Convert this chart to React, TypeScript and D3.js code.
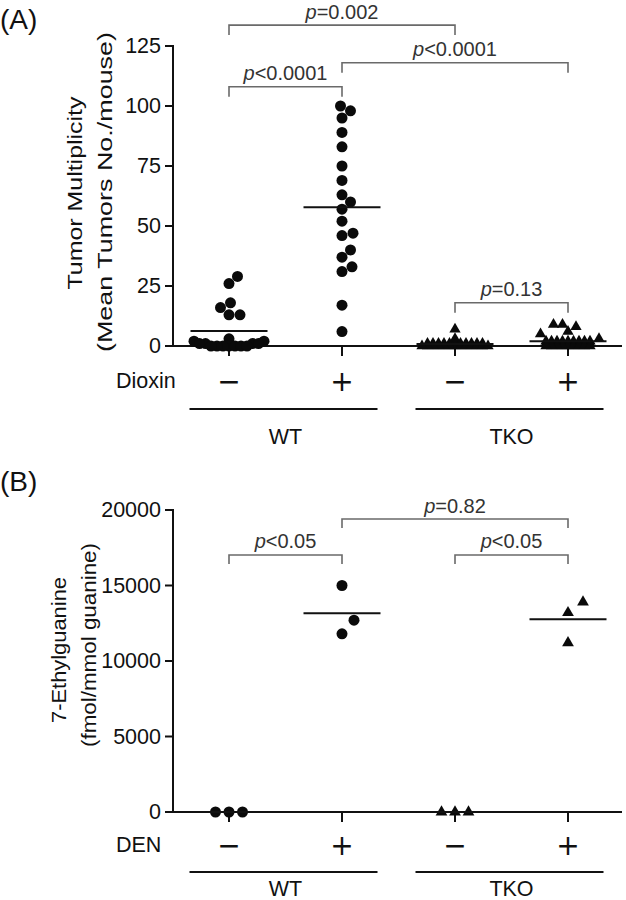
import React from "react";
import * as d3 from "d3";

// ---------- data ----------
const groupKeys = ["WT-", "WT+", "TKO-", "TKO+"];
const treatmentSigns = ["\u2212", "+", "\u2212", "+"];
const markerShapes = ["circle", "circle", "triangle", "triangle"];
const genotypes = ["WT", "TKO"];
const genotypeGroups = [
  ["WT-", "WT+"],
  ["TKO-", "TKO+"],
];

// Panel A: tumor multiplicity (tumors / mouse)
const tumorWTControl = [29, 26, 18, 16, 13, 13, 3, 2, 2, 1, 1, 1, 1, 0, 0, 0, 0, 0, 0, 0];
const tumorWTDioxin = [100, 98, 95, 89, 83, 75, 69, 63, 60, 57, 52, 47, 46, 40, 37, 33, 31, 17, 6];
const tumorTKOControl = [7, 3, 1, 1, 1, 1, 1, 1, 1, 1, 1, 1, 1, 0, 0, 0, 0, 0, 0, 0, 0, 0, 0, 0, 0, 0];
const tumorTKODioxin = [9, 9, 8, 6, 5, 3, 2, 2, 2, 2, 2, 2, 2, 2, 2, 1, 1, 1, 1, 1, 1, 1, 1, 1, 0, 0, 0, 0, 0, 0, 0, 0, 0];
const tumorTicks = [0, 25, 50, 75, 100, 125];
const tumorBrackets = [
  { from: 0, to: 2, level: 133.7, label: "=0.002" },
  { from: 1, to: 3, level: 118, label: "<0.0001" },
  { from: 0, to: 1, level: 108, label: "<0.0001" },
  { from: 2, to: 3, level: 18, label: "=0.13" },
];

// Panel B: 7-ethylguanine (fmol/mmol guanine)
const ethylWTControl = [0, 0, 0];
const ethylWTDEN = [15000, 12700, 11800];
const ethylTKOControl = [0, 0, 0];
const ethylTKODEN = [13900, 13200, 11200];
const ethylTicks = [0, 5000, 10000, 15000, 20000];
const ethylBrackets = [
  { from: 1, to: 3, level: 19400, label: "=0.82" },
  { from: 0, to: 1, level: 17020, label: "<0.05" },
  { from: 2, to: 3, level: 17020, label: "<0.05" },
];

// ---------- helpers ----------
const FONT = "'Liberation Sans', Arial, Helvetica, sans-serif";
const SIGN_FONT = "'DejaVu Sans', sans-serif";

type Pt = { v: number; y: number; dx: number; row: boolean };
type Layout = { d: number; rowMax: number; rowW: number; rowH: number; rowRound: boolean };

function swarm(values: number[], y: (v: number) => number, L: Layout): Pt[] {
  const items: Pt[] = values.map((v) => ({ v, y: y(v), dx: 0, row: v <= L.rowMax }));
  const order = items.map((_, i) => i).sort((a, b) => items[a].v - items[b].v);
  const placed: Pt[] = [];
  for (const i of order) {
    const p = items[i];
    for (let k = 0; k < 800; k++) {
      const off = k === 0 ? 0 : (k % 2 === 1 ? 1 : -1) * Math.ceil(k / 2) * 0.5;
      let ok = true;
      for (const q of placed) {
        const dx = off - q.dx;
        const dy = p.y - q.y;
        if (p.row && q.row) {
          if (L.rowRound) {
            if (dx * dx + dy * dy < L.rowW * L.rowW - 1e-6) {
              ok = false;
              break;
            }
          } else if (Math.abs(dy) < L.rowH && Math.abs(dx) < L.rowW - 1e-6) {
            ok = false;
            break;
          }
        } else if (dx * dx + dy * dy < L.d * L.d - 1e-6) {
          ok = false;
          break;
        }
      }
      if (ok) {
        p.dx = off;
        break;
      }
    }
    placed.push(p);
  }
  return items;
}

const xScale = d3.scalePoint<string>().domain(groupKeys).range([229, 568]);

type PanelProps = {
  letter: string;
  letterY: number;
  yScale: d3.ScaleLinear<number, number>;
  ticks: number[];
  series: number[][];
  layouts: Layout[];
  brackets: { from: number; to: number; level: number; label: string }[];
  legLen: number;
  rowLabel: string;
  rowY: number;
  lineY: number;
  genoY: number;
  yLabel: { text: string; x: number; y: number; len: number }[];
  circleR: number;
  triSize: number;
};

function Panel(p: PanelProps) {
  const y0 = p.yScale(0);
  const yTop = p.yScale(p.ticks[p.ticks.length - 1]);
  const tri = d3.symbol().type(d3.symbolTriangle).size(p.triSize)() as string;
  const meanHalf = 38.5;
  return (
    <g>
      <text x={0} y={p.letterY} fontSize={28} fontFamily={FONT} dominantBaseline="central" fill="#111">
        {p.letter}
      </text>
      {p.yLabel.map((l, i) => (
        <text
          key={i}
          transform={`translate(${l.x},${l.y}) rotate(-90)`}
          textAnchor="middle"
          dominantBaseline="central"
          fontSize={21}
          fontFamily={FONT}
          fill="#111"
          textLength={l.len}
          lengthAdjust="spacingAndGlyphs"
        >
          {l.text}
        </text>
      ))}
      {p.brackets.map((b, i) => {
        const x1 = xScale(groupKeys[b.from])!;
        const x2 = xScale(groupKeys[b.to])!;
        const yy = p.yScale(b.level);
        return (
          <g key={i}>
            <path
              d={`M${x1},${yy + p.legLen}V${yy}H${x2}V${yy + p.legLen}`}
              fill="none"
              stroke="#6a6a6a"
              strokeWidth={1.6}
            />
            <text
              x={(x1 + x2) / 2}
              y={yy - 13.5}
              textAnchor="middle"
              dominantBaseline="central"
              fontSize={20}
              fontFamily={FONT}
              fill="#333"
            >
              <tspan fontStyle="italic">p</tspan>
              {b.label}
            </text>
          </g>
        );
      })}
      <line x1={173} x2={173} y1={yTop - 1} y2={y0 + 1} stroke="#111" strokeWidth={2} />
      {p.ticks.map((t) => (
        <g key={t}>
          <line x1={165} x2={173} y1={p.yScale(t)} y2={p.yScale(t)} stroke="#111" strokeWidth={2} />
          <text
            x={161}
            y={p.yScale(t)}
            textAnchor="end"
            dominantBaseline="central"
            fontSize={21.5}
            fontFamily={FONT}
            fill="#111"
          >
            {t}
          </text>
        </g>
      ))}
      <line x1={172} x2={622} y1={y0} y2={y0} stroke="#111" strokeWidth={2} />
      {groupKeys.map((g) => (
        <line key={g} x1={xScale(g)!} x2={xScale(g)!} y1={y0} y2={y0 + 10} stroke="#111" strokeWidth={2} />
      ))}
      {p.series.map((vals, gi) => {
        const pts = swarm(vals, (v) => p.yScale(v), p.layouts[gi]);
        const cx = xScale(groupKeys[gi])!;
        return (
          <g key={gi}>
            {pts.map((pt, j) =>
              markerShapes[gi] === "circle" ? (
                <circle key={j} cx={cx + pt.dx} cy={pt.y} r={p.circleR} fill="#0a0a0a" />
              ) : (
                <path key={j} d={tri} transform={`translate(${cx + pt.dx},${pt.y})`} fill="#0a0a0a" />
              )
            )}
          </g>
        );
      })}
      {p.series.map((vals, gi) => {
        const cx = xScale(groupKeys[gi])!;
        const m = p.yScale(d3.mean(vals) ?? 0);
        return <line key={gi} x1={cx - meanHalf} x2={cx + meanHalf} y1={m} y2={m} stroke="#111" strokeWidth={2} />;
      })}
      <text x={116} y={p.rowY} dominantBaseline="central" fontSize={21.5} fontFamily={FONT} fill="#111">
        {p.rowLabel}
      </text>
      {groupKeys.map((g, i) => (
        <text
          key={g}
          x={xScale(g)!}
          y={p.rowY}
          textAnchor="middle"
          dominantBaseline="central"
          fontSize={28}
          fontFamily={SIGN_FONT}
          fill="#111"
        >
          {treatmentSigns[i]}
        </text>
      ))}
      {genotypes.map((gt, i) => {
        const xs = genotypeGroups[i].map((g) => xScale(g)!);
        const c = (xs[0] + xs[1]) / 2 - 2;
        return (
          <g key={gt}>
            <line x1={c - 94} x2={c + 94} y1={p.lineY} y2={p.lineY} stroke="#111" strokeWidth={2} />
            <text
              x={c + 2}
              y={p.genoY}
              textAnchor="middle"
              dominantBaseline="central"
              fontSize={21.5}
              fontFamily={FONT}
              fill="#111"
            >
              {gt}
            </text>
          </g>
        );
      })}
    </g>
  );
}

export default function App() {
  const yA = d3.scaleLinear().domain([0, 125]).range([346, 46]);
  const yB = d3.scaleLinear().domain([0, 20000]).range([812, 510]);
  const layoutsA: Layout[] = [
    { d: 11, rowMax: 4, rowW: 6, rowH: 0, rowRound: true },
    { d: 11, rowMax: -1, rowW: 0, rowH: 0, rowRound: false },
    { d: 9, rowMax: 3, rowW: 5.5, rowH: 2.3, rowRound: false },
    { d: 9, rowMax: 2, rowW: 5.5, rowH: 2.3, rowRound: false },
  ];
  const lB: Layout = { d: 18, rowMax: 0, rowW: 13.5, rowH: 1, rowRound: false };
  return (
    <svg
      width={626}
      height={900}
      viewBox="0 0 626 900"
      style={{ position: "absolute", left: 0, top: 0, background: "#fff" }}
    >
      <rect width={626} height={900} fill="#fff" />
      <Panel
        letter="(A)"
        letterY={19}
        yScale={yA}
        ticks={tumorTicks}
        series={[tumorWTControl, tumorWTDioxin, tumorTKOControl, tumorTKODioxin]}
        layouts={layoutsA}
        brackets={tumorBrackets}
        legLen={10}
        rowLabel="Dioxin"
        rowY={381}
        lineY={409}
        genoY={437}
        yLabel={[
          { text: "Tumor Multiplicity", x: 74, y: 193, len: 193 },
          { text: "(Mean Tumors No./mouse)", x: 104, y: 192, len: 320 },
        ]}
        circleR={5.5}
        triSize={55}
      />
      <Panel
        letter="(B)"
        letterY={481}
        yScale={yB}
        ticks={ethylTicks}
        series={[ethylWTControl, ethylWTDEN, ethylTKOControl, ethylTKODEN]}
        layouts={[lB, lB, lB, lB]}
        brackets={ethylBrackets}
        legLen={9}
        rowLabel="DEN"
        rowY={845}
        lineY={872}
        genoY={889}
        yLabel={[
          { text: "7-Ethylguanine", x: 58, y: 650, len: 146 },
          { text: "(fmol/mmol guanine)", x: 88, y: 645, len: 204 },
        ]}
        circleR={5.5}
        triSize={60}
      />
    </svg>
  );
}
